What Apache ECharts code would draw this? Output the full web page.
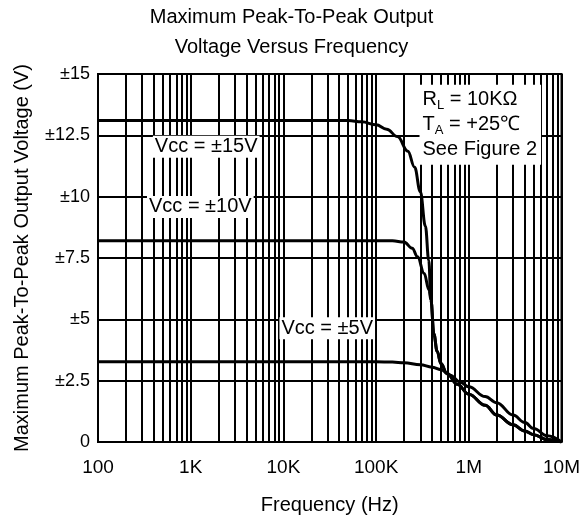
<!DOCTYPE html>
<html><head><meta charset="utf-8">
<script src="https://cdn.jsdelivr.net/npm/echarts@6/dist/echarts.min.js"></script>
<style>html,body{margin:0;padding:0;background:#fff}#c{width:583px;height:523px}</style>
</head><body><div id="c"></div>
<script>
// ---- data ----
const xTickLabels = ['100', '1K', '10K', '100K', '1M', '10M'];
const yTickValues = [0, 2.5, 5, 7.5, 10, 12.5, 15];
const minorGridFreqs = [
  200, 300, 400, 500, 600, 700, 800, 900,
  2000, 3000, 4000, 5000, 6000, 7000, 8000, 9000,
  20000, 30000, 40000, 50000, 60000, 70000, 80000, 90000,
  200000, 300000, 400000, 500000, 600000, 700000, 800000, 900000,
  2000000, 3000000, 4000000, 5000000, 6000000, 7000000, 8000000, 9000000
];
const freq15 = [100, 1000, 10000, 50000, 70000, 100000, 130000, 170000, 220000, 260000, 300000, 340000, 370000, 390000, 420000, 455000, 500000, 580000, 750000, 1000000, 1500000, 2000000, 3000000, 4000000, 5000000, 7000000, 10000000];
const volt15 = [13.1, 13.1, 13.1, 13.1, 13.05, 12.93, 12.75, 12.45, 11.85, 11.2, 10.2, 8.8, 7.4, 5.8, 4.4, 3.7, 3.2, 2.8, 2.35, 1.95, 1.5, 1.1, 0.7, 0.45, 0.3, 0.1, 0];
const freq10 = [100, 1000, 10000, 100000, 150000, 200000, 245000, 280000, 330000, 372000, 390000, 420000, 455000, 500000, 580000, 750000, 1000000, 1500000, 2000000, 3000000, 4000000, 5000000, 7000000, 10000000];
const volt10 = [8.2, 8.2, 8.2, 8.2, 8.2, 8.15, 7.9, 7.55, 6.87, 6.2, 5.8, 4.4, 3.7, 3.2, 2.8, 2.35, 1.95, 1.5, 1.1, 0.7, 0.45, 0.3, 0.1, 0];
const freq5 = [100, 1000, 10000, 100000, 150000, 200000, 300000, 400000, 500000, 630000, 800000, 1000000, 1500000, 2000000, 3000000, 4000000, 5000000, 7000000, 10000000];
const volt5 = [3.27, 3.27, 3.27, 3.27, 3.26, 3.23, 3.15, 3.05, 2.95, 2.72, 2.45, 2.25, 1.85, 1.6, 1.1, 0.8, 0.55, 0.25, 0];
const noteTexts = ['Vcc = ±15V', 'Vcc = ±10V', 'Vcc = ±5V'];
const noteFreqs = [1470, 1270, 29700];
const noteVolts = [12.03, 9.58, 4.64];
const condFreq = 294000, condVolt = 12.93;

const FONT = 'Arial, "Liberation Sans", sans-serif';
const pairs = (f, v) => f.map((x, i) => [x, v[i]]);

const chart = echarts.init(document.getElementById('c'), null, {renderer: 'canvas'});
const lineStyle = {color: '#000', width: 3};
chart.setOption({
  animation: false,
  backgroundColor: '#fff',
  title: {
    text: 'Maximum Peak-To-Peak Output\nVoltage Versus Frequency',
    left: 'center', top: 2,
    padding: [0, 0, 0, 79],
    textStyle: {fontFamily: FONT, fontSize: 20, fontWeight: 'normal', color: '#000', lineHeight: 30}
  },
  grid: {left: 98, right: 18, top: 74, bottom: 81, show: true, borderColor: '#000', borderWidth: 2, backgroundColor: 'transparent'},
  xAxis: {
    type: 'log', logBase: 10, min: 100, max: 10000000,
    name: 'Frequency (Hz)', nameLocation: 'middle', nameGap: 53,
    nameTextStyle: {fontFamily: FONT, fontSize: 20, color: '#000'},
    axisLine: {show: true, lineStyle: {color: '#000', width: 2}},
    axisTick: {show: false},
    axisLabel: {fontFamily: FONT, fontSize: 19, color: '#000', margin: 16,
      formatter: v => xTickLabels[Math.round(Math.log10(v)) - 2]},
    splitLine: {show: true, lineStyle: {color: '#000', width: 2}},
    minorSplitLine: {show: false}
  },
  yAxis: {
    type: 'value', min: 0, max: 15, interval: 2.5,
    name: 'Maximum Peak-To-Peak Output Voltage (V)', nameLocation: 'middle', nameGap: 66,
    nameTextStyle: {fontFamily: FONT, fontSize: 20, color: '#000'},
    axisLine: {show: true, lineStyle: {color: '#000', width: 2}},
    axisTick: {show: false},
    axisLabel: {fontFamily: FONT, fontSize: 18, color: '#000', margin: 8,
      formatter: v => (yTickValues.indexOf(v) === 0 ? '0' : '±' + v)},
    splitLine: {show: true, lineStyle: {color: '#000', width: 2}}
  },
  series: [
    {
      name: 'Vcc = ±5V', type: 'line', data: pairs(freq5, volt5), z: 5,
      showSymbol: false, symbol: 'none', smooth: 0.4, smoothMonotone: 'x', lineStyle, silent: true,
      markLine: {
        silent: true, z: 1, symbol: ['none', 'none'], label: {show: false},
        lineStyle: {color: '#000', width: 2, type: 'solid'},
        emphasis: {disabled: true},
        data: minorGridFreqs.map(f => ({xAxis: f}))
      }
    },
    {
      name: 'Vcc = ±10V', type: 'line', data: pairs(freq10, volt10), z: 5,
      showSymbol: false, symbol: 'none', smooth: 0.4, smoothMonotone: 'x', lineStyle, silent: true
    },
    {
      name: 'Vcc = ±15V', type: 'line', data: pairs(freq15, volt15), z: 5,
      showSymbol: false, symbol: 'none', smooth: 0.4, smoothMonotone: 'x', lineStyle, silent: true,
      markPoint: {
        silent: true, z: 10, symbol: 'rect', symbolSize: 1,
        itemStyle: {color: 'rgba(0,0,0,0)'},
        label: {show: true, position: 'inside', color: '#000', fontFamily: FONT, fontSize: 20,
          backgroundColor: '#fff', padding: [1, 2, 1, 2]},
        data: noteTexts.map((t, i) => ({name: t, coord: [noteFreqs[i], noteVolts[i]],
          label: {formatter: t}})).concat([{
            name: 'cond', coord: [condFreq, condVolt],
            label: {
              align: 'left', padding: [2, 4, 3, 3],
              formatter: '{n|R}{s|L}{n| = 10KΩ}\n{n|T}{s|A}{n| = +25℃}\n{n|See Figure 2}',
              rich: {
                n: {fontFamily: FONT, fontSize: 20, color: '#000', lineHeight: 25},
                s: {fontFamily: FONT, fontSize: 13, color: '#000', lineHeight: 15, verticalAlign: 'bottom'}
              }
            }
          }])
      }
    }
  ]
});
</script></body></html>
